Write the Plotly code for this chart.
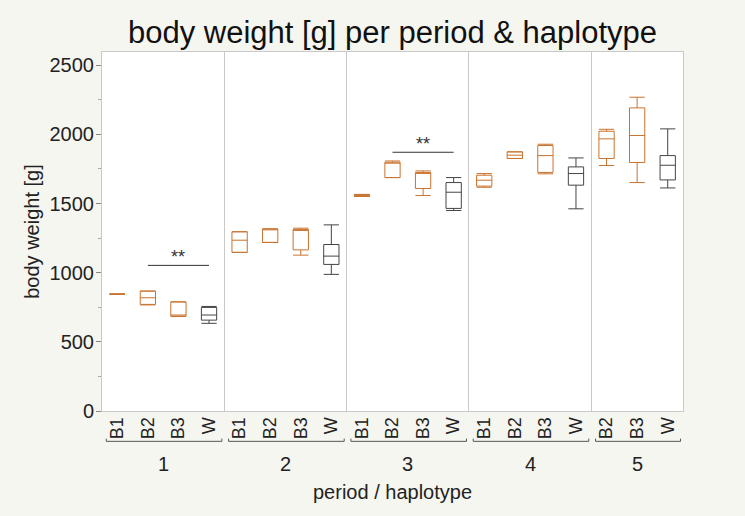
import plotly.graph_objects as go

# Datos: una caja por periodo / haplotipo (cuartiles)
period = ["1", "1", "1", "1", "2", "2", "2", "2", "3", "3", "3", "3",
          "4", "4", "4", "4", "5", "5", "5"]
haplotype = ["B1", "B2", "B3", "W", "B1", "B2", "B3", "W", "B1", "B2", "B3", "W",
             "B1", "B2", "B3", "W", "B2", "B3", "W"]
lower = [845, 767, 683, 634, 1147, 1219, 1127, 988, 1552, 1688, 1558, 1450,
         1618, 1826, 1715, 1462, 1775, 1652, 1613]
q1 = [845, 771, 686, 657, 1147, 1219, 1165, 1060, 1552, 1688, 1609, 1465,
      1626, 1826, 1725, 1633, 1826, 1797, 1671]
median = [845, 819, 694, 694, 1235, 1317, 1313, 1120, 1558, 1799, 1725, 1582,
          1669, 1850, 1847, 1717, 1968, 1992, 1777]
q3 = [845, 867, 788, 749, 1296, 1317, 1313, 1204, 1566, 1799, 1725, 1652,
      1705, 1874, 1920, 1765, 2023, 2192, 1847]
upper = [845, 867, 790, 756, 1296, 1317, 1322, 1346, 1566, 1808, 1736, 1688,
         1717, 1874, 1929, 1830, 2037, 2269, 2040]

# Signifikanz-Balken
sig_period = ["1", "3"]
sig_from = ["B2", "B2"]
sig_to = ["W", "W"]
sig_y = [1053, 1871]
sig_text = ["**", "**"]

orange = "#C8732F"
dark = "#454545"
divider = "#C9C9C9"

xpos = list(range(len(haplotype)))

fig = go.Figure()
for color, sel in [(orange, lambda h: h != "W"), (dark, lambda h: h == "W")]:
    idx = [i for i, h in enumerate(haplotype) if sel(h)]
    fig.add_trace(go.Box(
        x=[xpos[i] for i in idx],
        q1=[q1[i] for i in idx],
        median=[median[i] for i in idx],
        q3=[q3[i] for i in idx],
        lowerfence=[lower[i] for i in idx],
        upperfence=[upper[i] for i in idx],
        width=0.5,
        whiskerwidth=1,
        fillcolor="rgba(0,0,0,0)",
        line=dict(color=color, width=1),
        boxpoints=False,
        hoverinfo="skip",
    ))

# Signifikanz-Linien
def pos(p, h):
    return next(i for i in xpos if period[i] == p and haplotype[i] == h)

for p, a, b, y, t in zip(sig_period, sig_from, sig_to, sig_y, sig_text):
    xa, xb = pos(p, a), pos(p, b)
    fig.add_trace(go.Scatter(x=[xa, xb], y=[y, y], mode="lines",
                             line=dict(color="#333333", width=1), hoverinfo="skip"))
    fig.add_annotation(x=(xa + xb) / 2, y=y, text=t, showarrow=False,
                       yanchor="bottom", yshift=-4, font=dict(size=18, color="#333333"))

# Gruppen: Trennlinien, Klammern und Beschriftungen
groups = []
for i, p in enumerate(period):
    if not groups or groups[-1][0] != p:
        groups.append([p, i, i])
    else:
        groups[-1][2] = i
dividers = [g[1] - 0.5 for g in groups[1:]]

for p, first, last in groups:
    x0, x1 = first - 0.36, last + 0.42
    fig.add_shape(type="path", xref="x", yref="paper",
                  path=f"M {x0},-0.077 L {x0},-0.0845 L {x1},-0.0845 L {x1},-0.077",
                  line=dict(color="#555555", width=1))
    fig.add_annotation(x=(first + last) / 2, y=-0.147, xref="x", yref="paper",
                       text=p, showarrow=False, yanchor="middle",
                       font=dict(size=20, color="#222222"))

fig.add_annotation(x=0.5, y=-0.225, xref="paper", yref="paper",
                   text="period / haplotype", showarrow=False, yanchor="middle",
                   font=dict(size=20, color="#222222"))

fig.update_layout(
    width=745, height=516,
    paper_bgcolor="#F6F6F1", plot_bgcolor="white",
    margin=dict(l=102, r=62, t=52, b=105),
    showlegend=False,
    font=dict(family="Liberation Sans, Arial, sans-serif", color="#222222"),
    title=dict(text="body weight [g] per period & haplotype", x=0.5, xref="paper",
               y=1 - 32 / 516, yref="container", yanchor="middle", xanchor="center",
               font=dict(size=31, color="#111111")),
)

fig.update_xaxes(
    range=[-0.5, len(haplotype) - 0.5],
    tickvals=xpos, ticktext=haplotype, tickangle=-90,
    tickfont=dict(size=18), ticks="", ticklabelstandoff=-2,
    showline=True, linecolor=divider, mirror=True,
    showgrid=False, zeroline=False,
    minor=dict(tickvals=dividers, showgrid=True, gridcolor=divider, gridwidth=1, ticks=""),
)
fig.update_yaxes(
    range=[0, 2596], dtick=500, tickfont=dict(size=20),
    ticks="outside", ticklen=5, tickcolor="#888888", ticklabelstandoff=-2,
    minor=dict(dtick=250, ticks="outside", ticklen=3, tickcolor="#AAAAAA"),
    showline=True, linecolor=divider, mirror=True,
    showgrid=False, zeroline=False,
    title=dict(text="body weight [g]", font=dict(size=20), standoff=4),
)

fig.write_html("out.html", config={"displayModeBar": False},
               post_script="document.body.style.margin='0px';")
